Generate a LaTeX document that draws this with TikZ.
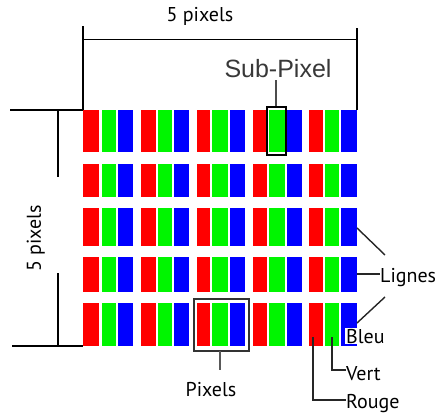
\documentclass[tikz,border=0pt]{standalone}
\usepackage{fontspec}
\setmainfont{PT Sans}
\newfontfamily\arialfont{Liberation Sans}
\definecolor{subR}{RGB}{255,0,0}
\definecolor{subG}{RGB}{0,245,0}
\definecolor{subB}{RGB}{0,0,255}
\begin{document}
\begin{tikzpicture}[x=1pt,y=-1pt,
  lbl/.style={font=\fontsize{20}{23}\selectfont, text=black, inner sep=0pt},
  dimline/.style={line width=1.5pt, black},
  leadline/.style={line width=1.4pt, black!85},
  hibox/.style={draw=black, line width=2pt, inner sep=0pt}]
\useasboundingbox (0,0) rectangle (437,415);

% sub-pixel grid
\foreach \ya/\yb in {110/152,164/197,208/246,257/292,303/346}{
  \foreach \xa/\xb/\c in {83/99/subR,101.5/116/subG,118/133/subB,
                          140.5/156/subR,158/172/subG,174/189/subB,
                          197/210/subR,212/228/subG,230/245/subB,
                          253/267/subR,268.5/285/subG,286.5/302/subB,
                          309/323/subR,324.5/339/subG,341/357/subB}{
    \fill[\c] (\xa,\ya) rectangle (\xb,\yb);
  }
}

\coordinate (gTL) at (83,110);
\coordinate (gTR) at (357,110);
\coordinate (gBL) at (83,346);

% top dimension
\coordinate (tL) at (83,26);
\coordinate (tR) at (357,28);
\coordinate (hL) at (83,39.5);
\coordinate (hR) at (357,39.5);
\draw[dimline] (tL) -- (gTL);
\draw[dimline] (tR) -- (gTR);
\draw[dimline] (hL) -- (hR);
\node[lbl, anchor=base] (toplbl) at (200,21) {5 pixels};

% left dimension
\coordinate (lT) at (10,110);
\coordinate (lB) at (12,346);
\coordinate (vT) at (58,110);
\coordinate (vTe) at (58,177);
\coordinate (vBs) at (58,273);
\coordinate (vB) at (58,346);
\draw[dimline] (lT) -- (gTL);
\draw[dimline] (lB) -- (gBL);
\draw[dimline] (vT) -- (vTe);
\draw[dimline] (vBs) -- (vB);
\node[lbl, rotate=90, anchor=base] (leftlbl) at (41,238.5) {5 pixels};

% sub-pixel highlight
\node[hibox, minimum width=19pt, minimum height=48pt] (spbox) at (276,130.5) {};
\node[font=\arialfont\fontsize{25}{28}\selectfont, text=black!78, inner sep=0pt, anchor=base] (sublbl) at (278,77) {Sub-Pixel};
\coordinate (subtop) at (276,80);
\draw[line width=1.3pt, black!70] (spbox.north) -- (subtop);

% pixel highlight
\node[draw=black!80, line width=2pt, inner sep=0pt, minimum width=55pt, minimum height=52pt] (pxbox) at (221,324.5) {};
\node[lbl, anchor=base] (pixlbl) at (211,396) {Pixels};
\coordinate (pxlinetop) at (220,351);
\coordinate (pxlinebot) at (220,370);
\draw[line width=1.4pt, black!65] (pxlinetop) -- (pxlinebot);

% Lignes
\node[lbl, anchor=base west] (lignes) at (380,282) {Lignes};
\coordinate (l1a) at (357,228);
\coordinate (l1b) at (385,255);
\coordinate (l2a) at (357,274);
\coordinate (l3a) at (357,323);
\coordinate (l3b) at (385,297);
\draw[leadline] (l1a) -- (l1b);
\draw[leadline] (l2a) -- (l2a -| lignes.west);
\draw[leadline] (l3a) -- (l3b);

% Bleu, Vert, Rouge
\node[lbl, anchor=base west, fill=white, inner sep=1pt] (bleu) at (345,343) {Bleu};
\node[lbl, anchor=base west] (vert) at (346,380) {Vert};
\node[lbl, anchor=base west] (rouge) at (346,408) {Rouge};
\coordinate (vs) at (332,337);
\coordinate (vc) at (332,370);
\coordinate (rs) at (313,337);
\coordinate (rc) at (313,400);
\draw[leadline] (vs) -- (vc) -- (vc -| vert.west);
\draw[leadline] (rs) -- (rc) -- (rc -| rouge.west);
\end{tikzpicture}
\end{document}
